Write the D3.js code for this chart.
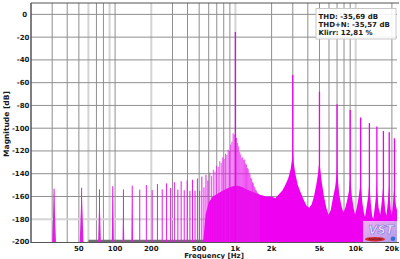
<!DOCTYPE html>
<html><head><meta charset="utf-8">
<script src="https://cdn.jsdelivr.net/npm/d3@7"></script>
<style>html,body{margin:0;padding:0;background:#fff;}svg{display:block;font-family:"DejaVu Sans",Verdana,sans-serif;}</style>
</head><body><svg id="c" width="400" height="259"></svg>
<script>
// ---- data ----
const combFreqs = [31.1,52.7,74.2,95.7,117.3,138.8,160.3,181.9,203.4,224.9,246.5,268.0,289.5,311.0,332.6,354.1,375.6,397.2,418.7,440.2,461.8,483.3,504.8,526.3,547.9,569.4,590.9,612.5,634.0,655.5,677.0,698.6,720.1,741.6,763.2,784.7,806.2,827.8,849.3,870.8,892.4,913.9,935.4,957.0,978.5,
  1021.5,1043.1,1064.6,1086.1,1107.7,1129.2,1150.7,1172.3,1193.8,1215.3,1236.8,1258.4,1279.9,1301.4,1323.0,1344.5,1366.0,1387.6,1409.1,1430.6,1452.2,1473.7,1495.2,1516.8,1538.3,1559.8,1581.4];
const combDb = [-153.2,-152.3,-153.8,-150.9,-153.8,-150.5,-154.0,-150.0,-154.4,-149.1,-153.8,-148.5,-152.6,-147.4,-154.0,-146.6,-154.5,-146.0,-155.0,-145.3,-155.0,-144.2,-155.0,-142.5,-152.0,-141.0,-146.0,-139.0,-142.0,-136.5,-138.0,-133.0,-134.0,-129.0,-130.5,-125.5,-127.0,-122.5,-123.5,-119.0,-120.0,-114.5,-112.0,-104.5,-105.5,
  -108.5,-113.0,-116.0,-121.0,-123.0,-126.0,-125.5,-128.0,-127.5,-131.0,-132.0,-135.0,-136.0,-139.5,-140.5,-143.5,-144.5,-147.5,-148.5,-151.0,-152.0,-154.0,-155.0,-156.5,-157.0,-158.0,-158.5];
const harmonicFreqs = [1000,3000,5000,7000,9000,11000,13000,15000,17000,19000,21000];
const harmonicDb = [-15.5,-53.3,-67.9,-79.0,-84.0,-90.5,-95.5,-98.5,-102.5,-103.5,-108.9];
const floorFreqs = [540,565,600,650,750,850,950,1050,1150,1250,1400,1600,1800,2000,2150,2300,2450,2600,2750,2880,2950,3000,3050,3150,3300,3500,3700,3900,4100,4300,4500,4700,4850,4950,5000,5060,5200,5450,5700,5950,6200,6450,6750,6920,7000,7080,7300,7600,7900,8200,8500,8800,8950,9000,9060,9300,9600,9900,10200,10600,10900,11000,11080,11350,11700,11950,12300,12700,12920,13000,13080,13400,13700,14000,14400,14800,14950,15000,15080,15500,16000,16500,16900,17000,17100,17600,18000,18500,18900,19000,19100,19600,20000,20500,20900,21000,21100,21600,22050];
const floorDb = [-200,-176,-165,-160,-156,-153,-151,-150.5,-152,-154,-156,-158.5,-160,-160,-161.5,-158,-155,-150,-144,-136,-128,-120,-130,-140,-150,-157,-163,-168,-170,-167,-160,-150,-141,-132,-125,-135,-146,-160,-170,-176,-172,-162,-152,-142,-133,-143,-158,-168,-174,-170,-163,-155,-146,-138,-147,-160,-170,-176,-170,-160,-150,-142,-152,-165,-174,-178,-170,-160,-150,-144,-154,-168,-177,-180,-170,-158,-150,-146,-156,-170,-176,-164,-152,-146,-157,-172,-177,-165,-152,-147,-158,-172,-176,-164,-152,-148,-158,-168,-172];
const yTickValues = [0,-20,-40,-60,-80,-100,-120,-140,-160,-180,-200];
const xTickValues = [50,100,200,500,1000,2000,5000,10000,20000];
const xTickLabels = ["50","100","200","500","1k","2k","5k","10k","20k"];
const gridFreqs = [30,40,50,60,70,80,90,100,200,300,400,500,600,700,800,900,1000,2000,3000,4000,5000,6000,7000,8000,9000,10000,20000];
const lightGridFreqs = [60,90,200,1000,10000];
const statLines = ["THD: -35,69 dB","THD+N: -35,57 dB","Klirr: 12,81 %"];

// ---- layout ----
const L = 31, R = 397, T = 3, B = 242;
const MAG = "#f000f0";
const svg = d3.select("#c");
const x = d3.scaleLog().domain([20, 22050]).range([L, R]);
const y = d3.scaleLinear().domain([-200, 10]).range([B, T]);

const defs = svg.append("defs");
defs.append("clipPath").attr("id","clip")
  .append("rect").attr("x",L).attr("y",T).attr("width",R-L).attr("height",B-T);

// grid
const grid = svg.append("g");
grid.selectAll(".vg").data(gridFreqs).join("line")
  .attr("x1",d=>x(d)).attr("x2",d=>x(d)).attr("y1",T).attr("y2",B)
  .attr("stroke",d=>lightGridFreqs.includes(d)?"#d4d4d4":"#8f8f8f")
  .attr("stroke-width",d=>lightGridFreqs.includes(d)?2:1);
grid.selectAll(".hg").data(yTickValues.filter(v=>v>-200)).join("line")
  .attr("x1",L).attr("x2",R).attr("y1",d=>y(d)).attr("y2",d=>y(d))
  .attr("stroke",d=>d===-180?"#d4d4d4":"#8f8f8f")
  .attr("stroke-width",d=>d===-180?2:1);

const plot = svg.append("g").attr("clip-path","url(#clip)");

// bottom gray trace
plot.append("line").attr("x1",x(60)).attr("x2",R).attr("y1",y(-200)-1).attr("y2",y(-200)-1)
  .attr("stroke","#6e6e6e").attr("stroke-width",2.5);

// noise floor area
const floorData = floorFreqs.map((f,i)=>({f, db: floorDb[i]}));
plot.append("path").datum(floorData)
  .attr("d", d3.area().x(d=>x(d.f)).y0(y(-200)).y1(d=>y(d.db)))
  .attr("fill", MAG);

// comb spikes
const combData = combFreqs.map((f,i)=>({f, db: combDb[i]}));
const lowSpikes = combData.filter(d=>d.f < 150);
plot.selectAll(".spk").data(lowSpikes).join("path")
  .attr("d", d => { const h = Math.min(1.9, 100 / d.f); return `M${x(d.f)-h},${y(-200)}L${x(d.f)},${y(d.db)}L${x(d.f)+h},${y(-200)}Z`; })
  .attr("fill", "#e020e6");
plot.selectAll(".spl").data(combData).join("line")
  .attr("x1",d=>x(d.f)).attr("x2",d=>x(d.f)).attr("y1",y(-200)).attr("y2",d=>y(d.db))
  .attr("stroke", "#e818ec").attr("stroke-width", d=> d.f > 600 ? 0.75 : 1);

// harmonics
const harmData = harmonicFreqs.map((f,i)=>({f, db: harmonicDb[i]}));
plot.selectAll(".hl").data(harmData).join("line")
  .attr("x1",d=>x(d.f)).attr("x2",d=>x(d.f)).attr("y1",y(-200)).attr("y2",d=>y(d.db))
  .attr("stroke", MAG).attr("stroke-width", 1.3);

// frame
svg.append("line").attr("x1",L).attr("x2",R+2).attr("y1",T).attr("y2",T).attr("stroke","#555").attr("stroke-width",1.2);
svg.append("line").attr("x1",L).attr("x2",L).attr("y1",T).attr("y2",B+1).attr("stroke","#555").attr("stroke-width",1.5);
svg.append("line").attr("x1",L).attr("x2",R+2).attr("y1",B+0.5).attr("y2",B+0.5).attr("stroke","#555").attr("stroke-width",1.2);

// y tick labels
svg.append("g").selectAll("text").data(yTickValues).join("text")
  .attr("x", d => d === 0 ? 27 : 29.5).attr("y", d=>y(d)).attr("dy","0.35em")
  .attr("text-anchor","end").attr("font-size",7).attr("font-weight","bold").attr("fill","#1a1a1a")
  .text(d=>String(d));
// x tick labels
svg.append("g").selectAll("text").data(xTickValues).join("text")
  .attr("x", d=>x(d)).attr("y", 250.5)
  .attr("text-anchor","middle").attr("font-size",7).attr("font-weight","bold").attr("fill","#1a1a1a")
  .text((d,i)=>xTickLabels[i]);
// titles
svg.append("text").attr("x",214).attr("y",257.5).attr("text-anchor","middle")
  .attr("font-size",7).attr("font-weight","bold").attr("fill","#1a1a1a").text("Frequency [Hz]");
svg.append("text").attr("transform","translate(6.5,124) rotate(-90)").attr("text-anchor","middle")
  .attr("dy","0.35em").attr("font-size",7.5).attr("font-weight","bold").attr("fill","#1a1a1a").text("Magnitude [dB]");

// stats box
svg.append("rect").attr("x",316).attr("y",8.5).attr("width",80).attr("height",30.5)
  .attr("fill","#fff").attr("fill-opacity",0.88).attr("stroke","#c8c8c8").attr("stroke-width",1);
svg.append("g").selectAll("text").data(statLines).join("text")
  .attr("x",318.5).attr("y",(d,i)=>19.3+i*7.9)
  .attr("font-size",7).attr("font-weight","bold").attr("fill","#1a1a1a").text(d=>d);

// logo
const lg = defs.append("linearGradient").attr("id","lg").attr("x1",0).attr("y1",0).attr("x2",1).attr("y2",1);
lg.append("stop").attr("offset","0%").attr("stop-color","#f4b8f4");
lg.append("stop").attr("offset","100%").attr("stop-color","#a9a4e8");
const logo = svg.append("g");
logo.append("rect").attr("x",363).attr("y",221).attr("width",34).attr("height",21).attr("fill","url(#lg)").attr("opacity",0.95);
logo.append("text").attr("x",381).attr("y",233.5).attr("text-anchor","middle").attr("font-size",11.5)
  .attr("font-weight","bold").attr("font-style","italic").attr("fill","#eef0ff").attr("stroke","#7a6ad8").attr("stroke-width",0.6).text("VST");
logo.append("ellipse").attr("cx",375).attr("cy",239.2).attr("rx",10).attr("ry",2.3).attr("fill","#d8262e");
logo.append("text").attr("x",375).attr("y",240.3).attr("text-anchor","middle").attr("font-size",3.1).attr("fill","#222").text("Analyzer");
logo.append("circle").attr("cx",393).attr("cy",238.8).attr("r",2.3).attr("fill","#2f6fd8");
</script></body></html>
